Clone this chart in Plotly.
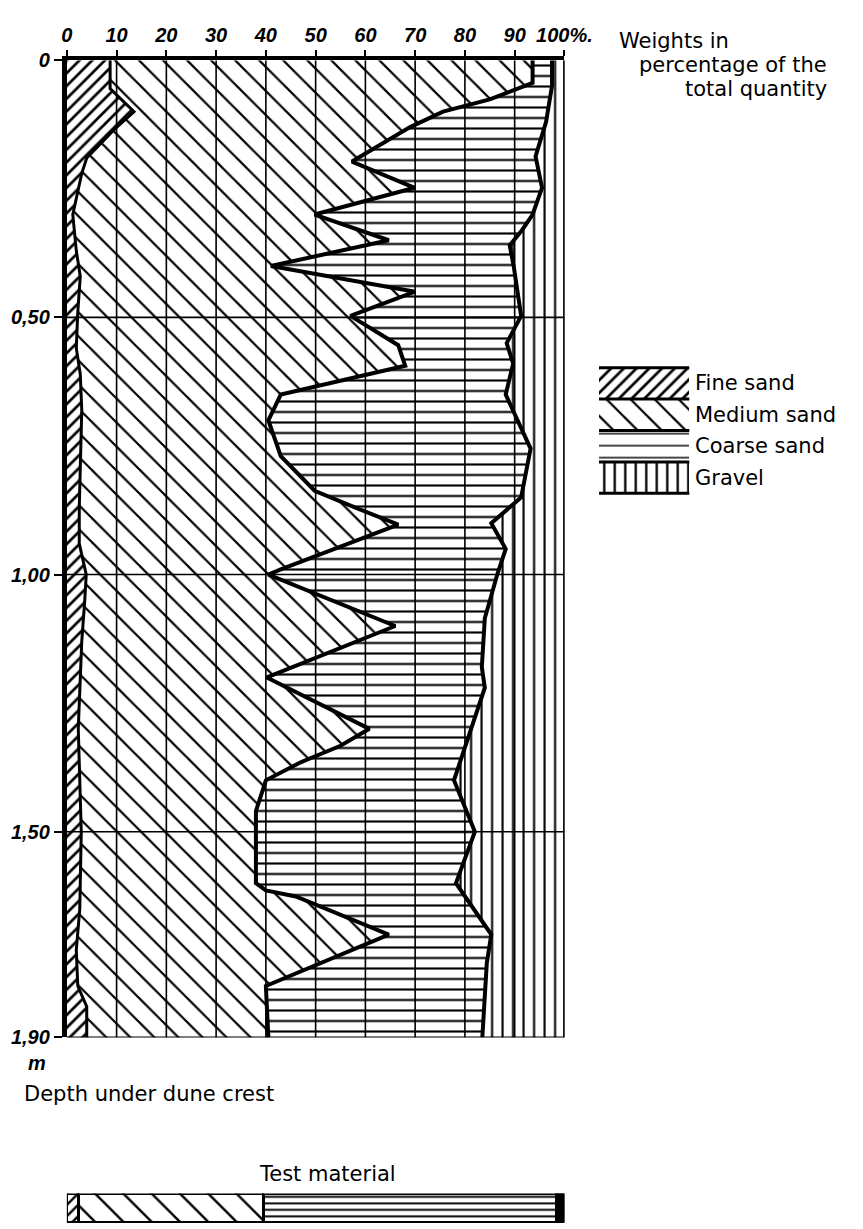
import plotly.graph_objects as go

W, H = 863, 1229

# ---------------- data ----------------
pct_ticks = [0, 10, 20, 30, 40, 50, 60, 70, 80, 90, 100]
pct_labels = ["0", "10", "20", "30", "40", "50", "60", "70", "80", "90", "100%."]
depth_ticks = [0, 0.5, 1.0, 1.5, 1.9]
depth_labels = ["0", "0,50", "1,00", "1,50", "1,90"]
grid_pct = [10, 20, 30, 40, 50, 60, 70, 80, 90]
grid_depth = [0.5, 1.0, 1.5]
depth_range = [0.0, 1.9]
pct_range = [0, 100]

# boundary: fine sand (cumulative %)
fine_depth = [0.00, 0.055, 0.10, 0.135, 0.19, 0.22, 0.30, 0.37, 0.42, 0.49, 0.56, 0.61,
              0.68, 0.87, 0.94, 0.98, 1.00, 1.05, 1.13, 1.30, 1.50, 1.65, 1.73, 1.80,
              1.84, 1.90]
fine_pct = [8.7, 8.7, 13.5, 9.5, 4.0, 3.0, 1.2, 1.9, 2.7, 2.2, 1.9, 2.7,
            3.0, 2.5, 2.5, 3.4, 3.9, 3.6, 3.0, 2.3, 2.9, 2.6, 1.9, 2.2,
            4.0, 4.0]

# boundary: fine + medium sand (cumulative %)
medium_depth = [0.00, 0.044, 0.076, 0.10, 0.13, 0.165, 0.197, 0.248, 0.30, 0.35, 0.40,
                0.45, 0.497, 0.554, 0.594, 0.65, 0.70, 0.77, 0.837, 0.87, 0.903, 0.99,
                1.00, 1.10, 1.20, 1.30, 1.333, 1.365, 1.40, 1.46, 1.60, 1.614, 1.626,
                1.70, 1.753, 1.80, 1.90]
medium_cum = [93.6, 93.6, 85.0, 75.6, 69.0, 62.7, 57.3, 69.9, 49.8, 64.7, 41.0,
              70.0, 57.0, 66.6, 68.0, 43.0, 40.5, 43.0, 49.8, 58.0, 66.6, 43.0,
              40.5, 66.0, 40.2, 60.8, 55.0, 47.0, 40.0, 38.0, 38.0, 40.0, 46.0,
              64.7, 51.7, 40.0, 40.5]

# boundary: fine + medium + coarse sand (cumulative %)
coarse_depth = [0.00, 0.05, 0.12, 0.187, 0.248, 0.30, 0.33, 0.36, 0.40, 0.497, 0.55,
                0.59, 0.65, 0.755, 0.85, 0.90, 0.95, 1.00, 1.085, 1.18, 1.22, 1.35,
                1.40, 1.50, 1.60, 1.70, 1.755, 1.90]
coarse_cum = [97.5, 97.5, 96.3, 94.2, 95.5, 93.6, 91.5, 89.0, 89.8, 91.3, 88.4,
              89.7, 88.2, 93.2, 91.3, 85.3, 88.2, 86.5, 84.0, 83.4, 84.0, 79.5,
              77.8, 82.0, 78.2, 85.3, 84.4, 83.5]

fractions = ["Fine sand", "Medium sand", "Coarse sand", "Gravel"]
test_pct = [2.5, 37.0, 59.0, 1.5]
legend_size = [1, 1, 1, 1]

# ---------------- styles ----------------
patterns = {
    "Fine sand": dict(shape="/", size=9, solidity=0.3),
    "Medium sand": dict(shape="\\", size=17, solidity=0.13),
    "Coarse sand": dict(shape="-", size=10.5, solidity=0.2),
    "Gravel": dict(shape="|", size=10.5, solidity=0.2),
}
test_patterns = {
    "Fine sand": dict(shape="/", size=8, solidity=0.3),
    "Medium sand": dict(shape="\\", size=20, solidity=0.12),
    "Coarse sand": dict(shape="-", size=6.5, solidity=0.3),
    "Gravel": dict(shape="|", size=3, solidity=0.7, bgcolor="black"),
}
legend_patterns = {
    "Fine sand": dict(shape="/", size=9, solidity=0.3),
    "Medium sand": dict(shape="\\", size=17, solidity=0.13),
    "Coarse sand": dict(shape="-", size=12, solidity=0.12),
    "Gravel": dict(shape="|", size=10.5, solidity=0.22),
}


def pat(d):
    out = dict(fgcolor="black", bgcolor="white", fillmode="replace")
    out.update(d)
    return out


def px(x):
    return x / W


def py(y):
    return 1 - y / H


TEXT_FONT = dict(family="DejaVu Sans", size=21, color="black")
TICK_FONT = dict(family="Liberation Sans", size=20, color="black", style="italic", weight="bold")

fig = go.Figure()

# base line at 0 %
fig.add_trace(go.Scatter(x=[pct_range[0] for _ in depth_range], y=depth_range, mode="lines",
                         line=dict(width=0, color="black"), showlegend=False, hoverinfo="skip"))
fig.add_trace(go.Scatter(x=fine_pct, y=fine_depth, mode="lines", fill="tonextx", fillcolor="white",
                         fillpattern=pat(patterns["Fine sand"]), line=dict(color="black", width=3),
                         name="Fine sand", showlegend=False))
fig.add_trace(go.Scatter(x=medium_cum, y=medium_depth, mode="lines", fill="tonextx", fillcolor="white",
                         fillpattern=pat(patterns["Medium sand"]), line=dict(color="black", width=4),
                         name="Medium sand", showlegend=False))
fig.add_trace(go.Scatter(x=coarse_cum, y=coarse_depth, mode="lines", fill="tonextx", fillcolor="white",
                         fillpattern=pat(patterns["Coarse sand"]), line=dict(color="black", width=4),
                         name="Coarse sand", showlegend=False))
fig.add_trace(go.Scatter(x=[pct_range[1] for _ in depth_range], y=depth_range, mode="lines",
                         fill="tonextx", fillcolor="white", fillpattern=pat(patterns["Gravel"]),
                         line=dict(color="black", width=2), name="Gravel", showlegend=False))

# test material bar (stacked)
for name, v in zip(fractions, test_pct):
    fig.add_trace(go.Bar(x=[v], y=["Test material"], orientation="h", xaxis="x2", yaxis="y2",
                         marker=dict(color="white", line=dict(color="black", width=2.5),
                                     pattern=pat(test_patterns[name])),
                         showlegend=False, name=name))

# legend swatches
for name, v in zip(fractions, legend_size):
    fig.add_trace(go.Bar(x=[v], y=[name], orientation="h", xaxis="x3", yaxis="y3",
                         marker=dict(color="white", line=dict(width=0),
                                     pattern=pat(legend_patterns[name])),
                         showlegend=False, name=name))

# grid lines above the fills
shapes = []
for g in grid_pct:
    shapes.append(dict(type="line", xref="x", yref="y", x0=g, x1=g, y0=depth_range[0], y1=depth_range[1],
                       line=dict(color="black", width=1.6), layer="above"))
for g in grid_depth:
    shapes.append(dict(type="line", xref="x", yref="y", x0=pct_range[0], x1=pct_range[1], y0=g, y1=g,
                       line=dict(color="black", width=1.6), layer="above"))
shapes.append(dict(type="line", xref="x", yref="y", x0=pct_range[0], x1=pct_range[1],
                   y0=depth_range[1], y1=depth_range[1], line=dict(color="black", width=2), layer="above"))
shapes.append(dict(type="line", xref="x", yref="y", x0=pct_range[1], x1=pct_range[1],
                   y0=depth_range[0], y1=depth_range[1], line=dict(color="black", width=2.5), layer="above"))
# legend swatch borders
for yb in [355, 387, 419, 451, 483]:
    shapes.append(dict(type="line", xref="paper", yref="paper", x0=px(609), x1=px(703), y0=py(yb), y1=py(yb),
                       line=dict(color="black", width=3), layer="above"))

annotations = [
    dict(text="Weights in", x=px(628), y=py(22), xanchor="left", yanchor="middle"),
    dict(text="percentage of the", x=px(848), y=py(47), xanchor="right", yanchor="middle"),
    dict(text="total quantity", x=px(848), y=py(71), xanchor="right", yanchor="middle"),
    dict(text="Depth under dune crest", x=px(8), y=py(1095), xanchor="left", yanchor="middle"),
    dict(text="Test material", x=px(326), y=py(1176), xanchor="center", yanchor="middle"),
]
for name, yc in zip(fractions, [371, 403, 435, 467]):
    annotations.append(dict(text=name, x=px(707), y=py(yc), xanchor="left", yanchor="middle"))
for a in annotations:
    a.update(xref="paper", yref="paper", showarrow=False, font=TEXT_FONT)
annotations.append(dict(text="m", x=px(24), y=py(1063), xref="paper", yref="paper", showarrow=False,
                        xanchor="center", yanchor="middle", font=TICK_FONT))

fig.update_layout(
    width=W, height=H, margin=dict(l=0, r=0, t=0, b=0),
    paper_bgcolor="white", plot_bgcolor="white",
    barmode="stack", bargap=0,
    shapes=shapes, annotations=annotations, showlegend=False,
    xaxis=dict(domain=[px(55), px(573)], range=pct_range, side="top", tickvals=pct_ticks, ticktext=pct_labels,
               ticks="outside", ticklen=6, tickwidth=2, tickcolor="black", showline=True, linewidth=4,
               linecolor="black", showgrid=False, zeroline=False, layer="above traces", tickfont=TICK_FONT,
               anchor="y", fixedrange=True),
    yaxis=dict(domain=[py(1037), py(42)], range=[depth_range[1], depth_range[0]], tickvals=depth_ticks,
               ticktext=depth_labels, ticks="outside", ticklen=8, tickwidth=2, tickcolor="black",
               showline=True, linewidth=5, linecolor="black", showgrid=False, zeroline=False,
               layer="above traces", tickfont=TICK_FONT, anchor="x", fixedrange=True),
    xaxis2=dict(domain=[px(55), px(573)], range=pct_range, visible=False, anchor="y2", fixedrange=True),
    yaxis2=dict(domain=[py(1226), py(1196)], visible=False, anchor="x2", fixedrange=True),
    xaxis3=dict(domain=[px(609), px(703)], range=[0, 1], visible=False, anchor="y3", fixedrange=True),
    yaxis3=dict(domain=[py(483), py(355)], visible=False, anchor="x3", autorange="reversed",
                categoryorder="array", categoryarray=fractions, fixedrange=True),
)

fig.write_html("out.html")
